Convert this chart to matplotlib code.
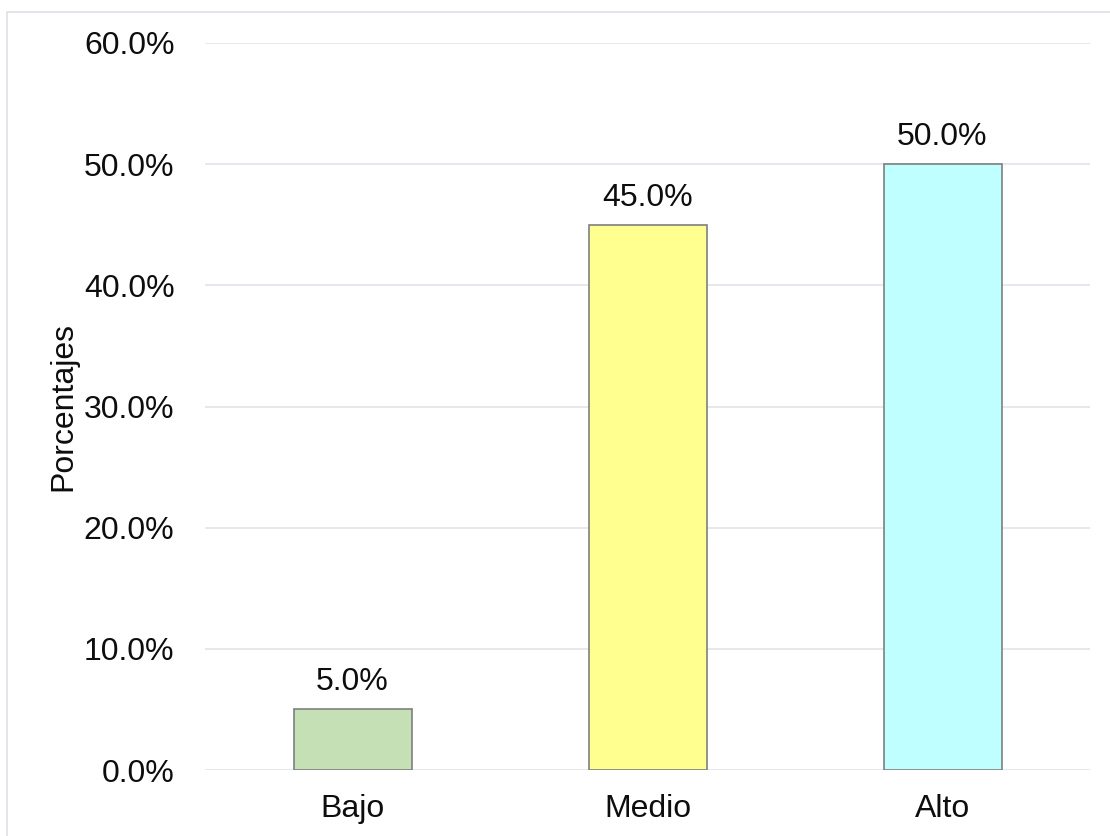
import matplotlib.pyplot as plt
from matplotlib.patches import Rectangle
from matplotlib.ticker import FuncFormatter

plt.rcParams['font.family'] = ['Liberation Sans', 'DejaVu Sans']

categorias = ['Bajo', 'Medio', 'Alto']
valores = [5.0, 45.0, 50.0]
colores = ['#c5e0b4', '#ffff8f', '#bfffff']

fig = plt.figure(figsize=(11.1, 8.36), dpi=100)
ax = fig.add_axes([205/1110, 66/836, 885/1110, 727/836])

fs = 23
x = range(len(categorias))
ax.bar(x, valores, width=0.4, color=colores, edgecolor='#7f7f7f', linewidth=1.2, zorder=3)
for xi, v in zip(x, valores):
    ax.text(xi, v + 1.0, f'{v:.1f}%', ha='center', va='bottom', fontsize=fs, color='#0d0d0d')

ax.set_xlim(-0.5, 2.5)
ax.set_ylim(0, 60)
ax.set_yticks(range(0, 61, 10))
ax.yaxis.set_major_formatter(FuncFormatter(lambda v, p: f'{v:.1f}%'))
ax.set_xticks(list(x))
ax.set_xticklabels(categorias)
ax.tick_params(length=0, labelsize=fs, colors='#0d0d0d')
ax.tick_params(axis='x', pad=17)
ax.tick_params(axis='y', pad=22)
ax.grid(axis='y', color='#e1e4ea', linewidth=1.2, zorder=0)
for s in ax.spines.values():
    s.set_visible(False)
ax.set_ylabel('Porcentajes', fontsize=fs, color='#0d0d0d', labelpad=4)

# marco exterior
fig.patches.append(Rectangle((7/1110, -0.1), 1.2, (836-12)/836 + 0.1, transform=fig.transFigure,
                             fill=False, edgecolor='#dde1e7', linewidth=1.2))

fig.savefig('out.png', dpi=100)
